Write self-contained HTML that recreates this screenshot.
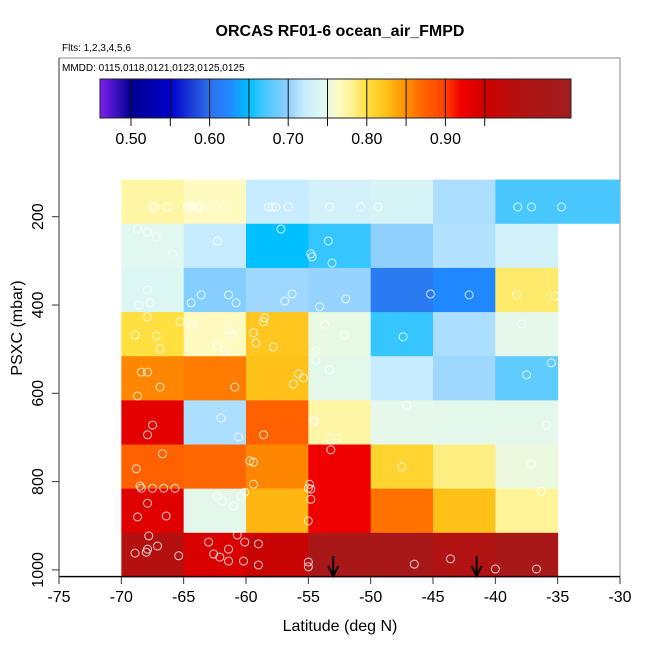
<!DOCTYPE html>
<html><head><meta charset="utf-8"><style>
body{margin:0;background:#fff}
svg text{font-family:"Liberation Sans",sans-serif}
</style></head><body>
<svg id="chart" width="650" height="650" xmlns="http://www.w3.org/2000/svg">
<text x="340" y="36" text-anchor="middle" font-size="16" font-weight="bold">ORCAS RF01-6 ocean_air_FMPD</text>
<text x="62" y="51" font-size="10">Flts: 1,2,3,4,5,6</text>
<rect x="59" y="58" width="561" height="519" fill="none" stroke="#888" stroke-width="1"/>
<text x="62" y="71" font-size="10">MMDD: 0115,0118,0121,0123,0125,0125</text>
<g id="cbar"></g>
<g id="cells"></g>
<g id="pts"></g>
<g id="axes"></g>
<text x="340" y="631" text-anchor="middle" font-size="16">Latitude (deg N)</text>
<text transform="translate(22,328) rotate(-90)" text-anchor="middle" font-size="16">PSXC (mbar)</text>
</svg>
<script>
const latEdges=[-70,-65,-60,-55,-50,-45,-40,-35];
const presEdges=[116,216,316,416,516,616,716,816,916,1016];
const cellValues=[
[0.775,0.765,0.72,0.73,0.735,0.71,0.67],
[0.745,0.72,0.65,0.665,0.70,0.712,0.73],
[0.74,0.695,0.705,0.702,0.61,0.625,0.79],
[0.80,0.765,0.82,0.75,0.665,0.71,0.748],
[0.855,0.86,0.825,0.747,0.72,0.705,0.68],
[0.93,0.71,0.875,0.775,0.748,0.747,0.747],
[0.875,0.87,0.855,0.92,0.81,0.785,0.752],
[0.935,0.747,0.83,0.92,0.865,0.825,0.78],
[0.99,0.94,0.96,1.03,1.03,1.0,1.03]];
const extraCellLat=[-35,-30];const extraCellValue=0.67;
const xTicks=[-75,-70,-65,-60,-55,-50,-45,-40,-35,-30];
const yTicks=[200,400,600,800,1000];
const cbTicks=[0.50,0.60,0.70,0.80,0.90];
const cbBreaks=[0.50,0.55,0.60,0.65,0.70,0.75,0.80,0.85,0.90,0.95];
const arrowLats=[-53.0,-41.5];
const ptLat=[-67.5,-67.3,-66.3,-64.7,-64.5,-64.3,-63.9,-63.7,-62.9,-61.8,-58.2,-57.9,-57.6,-56.6,-53.3,-50.8,-49.4,-38.2,-37.1,-34.7,
-68.7,-67.9,-67.2,-65.9,-62.3,-57.2,-53.4,-54.8,-54.7,-53.1,
-67.9,-68.6,-67.7,-64.4,-60.8,-63.6,-61.4,-58.5,-58.6,-56.9,-56.3,-64.3,-65.3,-61.3,-54.1,-52.0,-45.2,-42.1,-38.3,-35.2,
-67.9,-68.9,-67.2,-66.9,-61.1,-62.3,-61.7,-59.4,-59.2,-57.8,-53.7,-52.1,-47.4,-37.9,-35.5,-54.4,-54.4,
-68.4,-67.9,-66.9,-68.7,-60.9,-55.8,-56.2,-55.4,-53.3,-37.5,
-67.5,-67.9,-62.0,-60.6,-58.6,-54.5,-54.6,-53.3,-52.7,-47.1,-35.9,
-53.2,-66.7,-68.8,-59.7,-59.4,-59.4,-54.9,-54.8,-47.5,-37.1,
-68.5,-68.4,-67.5,-66.6,-65.7,-67.9,-68.7,-66.4,-62.3,-61.9,-61.0,-60.4,-60.1,-55.0,-54.8,-55.0,-36.3,
-67.8,-68.9,-67.9,-68.0,-67.1,-65.4,-63.0,-62.6,-62.1,-61.4,-61.4,-60.7,-60.1,-60.2,-59.0,-59.0,-55.0,-55.0,-46.5,-43.6,-40.0,-36.7];
const ptPres=[178,178,178,178,178,178,178,178,178,178,178,178,178,178,178,178,178,178,178,178,
228,235,246,284,255,228,255,284,291,305,
366,400,395,395,395,377,377,429,438,391,375,445,438,457,404,386,375,377,377,380,
427,468,470,499,468,493,504,463,486,495,445,468,472,443,531,504,525,
552,552,586,606,586,556,579,565,547,558,
672,694,656,699,694,660,665,701,703,627,672,
728,737,771,753,756,806,806,817,767,760,
810,815,815,815,815,849,880,878,833,844,855,833,824,815,840,889,822,
923,962,953,960,946,968,937,964,971,953,980,921,937,980,941,989,982,993,987,975,998,998];

const NS="http://www.w3.org/2000/svg";
const X=v=>59+(v+75)*561/45;
const Y=p=>128.4+p*0.4415;
const CB=v=>131+(v-0.5)*786;
const stops=[[0.46,"#8020f0"],[0.50,"#000090"],[0.55,"#0000c8"],[0.60,"#3070e8"],[0.625,"#2088ff"],[0.65,"#00c0ff"],[0.67,"#48c8ff"],[0.70,"#90d0ff"],[0.72,"#c8ecff"],[0.745,"#e0f8f0"],[0.765,"#fffac0"],[0.78,"#fff498"],[0.80,"#ffe040"],[0.825,"#ffc018"],[0.85,"#ff9000"],[0.87,"#ff6800"],[0.90,"#ff4000"],[0.92,"#f00000"],[0.95,"#d00000"],[0.99,"#b41010"],[1.06,"#a01e20"]];
function hex(c){return [1,3,5].map(i=>parseInt(c.substr(i,2),16));}
function color(v){
  if(v<=stops[0][0])return stops[0][1];
  for(let i=1;i<stops.length;i++){if(v<=stops[i][0]){const a=stops[i-1],b=stops[i];const t=(v-a[0])/(b[0]-a[0]);const ca=hex(a[1]),cb=hex(b[1]);return "rgb("+ca.map((c,k)=>Math.round(c+(cb[k]-c)*t)).join(",")+")";}}
  return stops[stops.length-1][1];
}
function mk(tag,attrs,parent){const e=document.createElementNS(NS,tag);for(const k in attrs)e.setAttribute(k,attrs[k]);parent.appendChild(e);return e;}

// colorbar
const cbar=document.getElementById('cbar');
for(let x=100;x<571;x++){
  const v=0.5+(x+0.5-131)/786;
  const r=mk('rect',{x:x,y:79,width:1.2,height:39,fill:color(v)},cbar);
  
  
}
mk('rect',{x:100,y:79,width:471,height:39,fill:'none',stroke:'#222','stroke-width':1},cbar);
cbBreaks.forEach(b=>{const l=mk('line',{x1:CB(b),x2:CB(b),y1:79,y2:126,stroke:'#111','stroke-width':1},cbar);
  });
cbTicks.forEach(t=>{const tx=mk('text',{x:CB(t),y:144,'text-anchor':'middle','font-size':16},cbar);tx.textContent=t.toFixed(2);
  });

// cells
const cells=document.getElementById('cells');
cellValues.forEach((row,i)=>row.forEach((v,j)=>{
  const r=mk('rect',{x:X(latEdges[j]),y:Y(presEdges[i]),width:X(latEdges[j+1])-X(latEdges[j])+0.5,height:Y(presEdges[i+1])-Y(presEdges[i])+0.5,fill:color(v)},cells);
  
  
}));
const ec=mk('rect',{x:X(extraCellLat[0]),y:Y(presEdges[0]),width:X(extraCellLat[1])-X(extraCellLat[0]),height:Y(presEdges[1])-Y(presEdges[0]),fill:color(extraCellValue)},cells);



// points
const pts=document.getElementById('pts');
ptLat.forEach((la,i)=>{
  const c=mk('circle',{cx:X(la),cy:Y(ptPres[i]),r:4,fill:'none',stroke:'#fff','stroke-opacity':0.8,'stroke-width':1},pts);
  
  
});

// axes
const ax=document.getElementById('axes');
mk('line',{x1:59,x2:620,y1:576.5,y2:576.5,stroke:'#000','stroke-width':1.2},ax);
xTicks.forEach(t=>{mk('line',{x1:X(t),x2:X(t),y1:577,y2:584,stroke:'#333'},ax);
  const tx=mk('text',{x:X(t),y:602,'text-anchor':'middle','font-size':16},ax);tx.textContent=t;
  });
mk('line',{x1:59,x2:59,y1:58,y2:577,stroke:'#555','stroke-width':1.2},ax);
yTicks.forEach(t=>{mk('line',{x1:52,x2:59,y1:Y(t),y2:Y(t),stroke:'#333'},ax);
  const tx=mk('text',{'text-anchor':'middle','font-size':16,transform:`translate(43,${Y(t)}) rotate(-90)`},ax);tx.textContent=t;
  });
arrowLats.forEach(a=>{const g=mk('g',{},ax);
  
  mk('line',{x1:X(a),x2:X(a),y1:556,y2:575,stroke:'#000','stroke-width':2},g);
  mk('path',{d:`M${X(a)-5},566 L${X(a)},576 L${X(a)+5},566`,fill:'none',stroke:'#000','stroke-width':2},g);});
</script>
</body></html>
